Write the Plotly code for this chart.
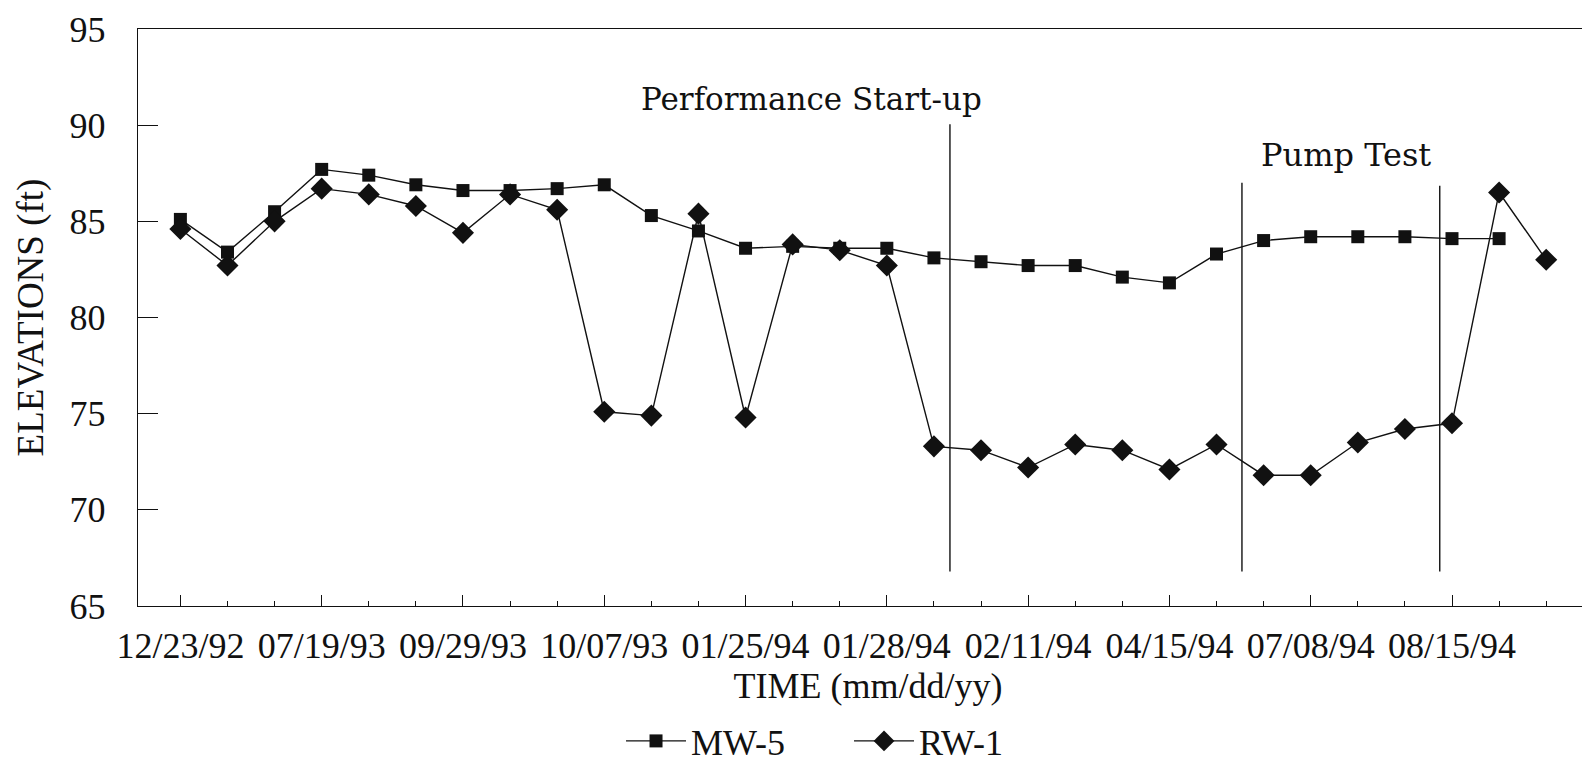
import plotly.graph_objects as go

# ---- data ----
n_points = 30
tick_positions = [0, 3, 6, 9, 12, 15, 18, 21, 24, 27]
tick_labels = ["12/23/92", "07/19/93", "09/29/93", "10/07/93", "01/25/94",
               "01/28/94", "02/11/94", "04/15/94", "07/08/94", "08/15/94"]

mw5 = [85.1, 83.4, 85.5, 87.7, 87.4, 86.9, 86.6, 86.6, 86.7, 86.9,
       85.3, 84.5, 83.6, 83.7, 83.6, 83.6, 83.1, 82.9, 82.7, 82.7,
       82.1, 81.8, 83.3, 84.0, 84.2, 84.2, 84.2, 84.1, 84.1, None]

rw1 = [84.6, 82.7, 85.0, 86.7, 86.4, 85.8, 84.4, 86.4, 85.6, 75.1,
       74.9, 85.4, 74.8, 83.8, 83.5, 82.7, 73.3, 73.1, 72.2, 73.4,
       73.1, 72.1, 73.4, 71.8, 71.8, 73.5, 74.2, 74.5, 86.5, 83.0]

event_labels = ["Performance Start-up", "Pump Test"]
event_lines = [16.34, 22.54, 26.74]

x_idx = list(range(n_points))

INK = "#111111"
SERIF = "Liberation Serif"

fig = go.Figure()
fig.add_trace(go.Scatter(
    x=x_idx, y=mw5, name="MW-5", mode="lines+markers",
    line=dict(color=INK, width=1.4),
    marker=dict(symbol="square", size=13, color=INK),
))
fig.add_trace(go.Scatter(
    x=x_idx, y=rw1, name="RW-1", mode="lines+markers",
    line=dict(color=INK, width=1.4),
    marker=dict(symbol="diamond", size=17, color=INK),
))

# vertical event lines
line_tops = [90.05, 87.0, 86.85]
for xv, top in zip(event_lines, line_tops):
    fig.add_shape(type="line", xref="x", yref="y", x0=xv, x1=xv, y0=66.8, y1=top,
                  line=dict(color=INK, width=1.4))

fig.add_annotation(x=13.4, y=91.35, xref="x", yref="y", text=event_labels[0],
                   showarrow=False, font=dict(family="DejaVu Serif", size=31, color=INK))
fig.add_annotation(x=24.75, y=88.45, xref="x", yref="y", text=event_labels[1],
                   showarrow=False, font=dict(family="DejaVu Serif", size=32, color=INK))

fig.update_layout(
    width=1590, height=763,
    margin=dict(l=130, r=0, t=21, b=163),
    paper_bgcolor="white", plot_bgcolor="white",
    font=dict(family=SERIF, size=35, color=INK),
    showlegend=True,
    legend=dict(orientation="h", x=0.487, xanchor="center", y=-0.235, yanchor="middle",
                font=dict(family=SERIF, size=36, color=INK), itemwidth=60,
                entrywidth=153, entrywidthmode="pixels",
                bgcolor="rgba(0,0,0,0)"),
    xaxis=dict(
        range=[-0.9, 30.1], showgrid=False, zeroline=False,
        showline=True, linecolor=INK, linewidth=1.4, mirror=True,
        tickmode="array", tickvals=tick_positions, ticktext=tick_labels,
        ticks="inside", ticklen=11, tickwidth=1.4, tickcolor=INK,
        minor=dict(dtick=1, tick0=0, ticks="inside", ticklen=5, tickwidth=1.2, tickcolor=INK, showgrid=False),
        tickfont=dict(family=SERIF, size=36, color=INK),
        ticklabelstandoff=8,
        title=dict(text="TIME (mm/dd/yy)", font=dict(family=SERIF, size=36, color=INK), standoff=4),
    ),
    yaxis=dict(
        range=[65, 95], dtick=5, tick0=65, showgrid=False, zeroline=False,
        showline=True, linecolor=INK, linewidth=1.4,
        ticks="inside", ticklen=20, tickwidth=1.4, tickcolor=INK,
        tickfont=dict(family=SERIF, size=36, color=INK),
        ticklabelstandoff=24,
        title=dict(text="ELEVATIONS (ft)", font=dict(family=SERIF, size=37, color=INK), standoff=14),
    ),
)

fig.write_html("out.html")
